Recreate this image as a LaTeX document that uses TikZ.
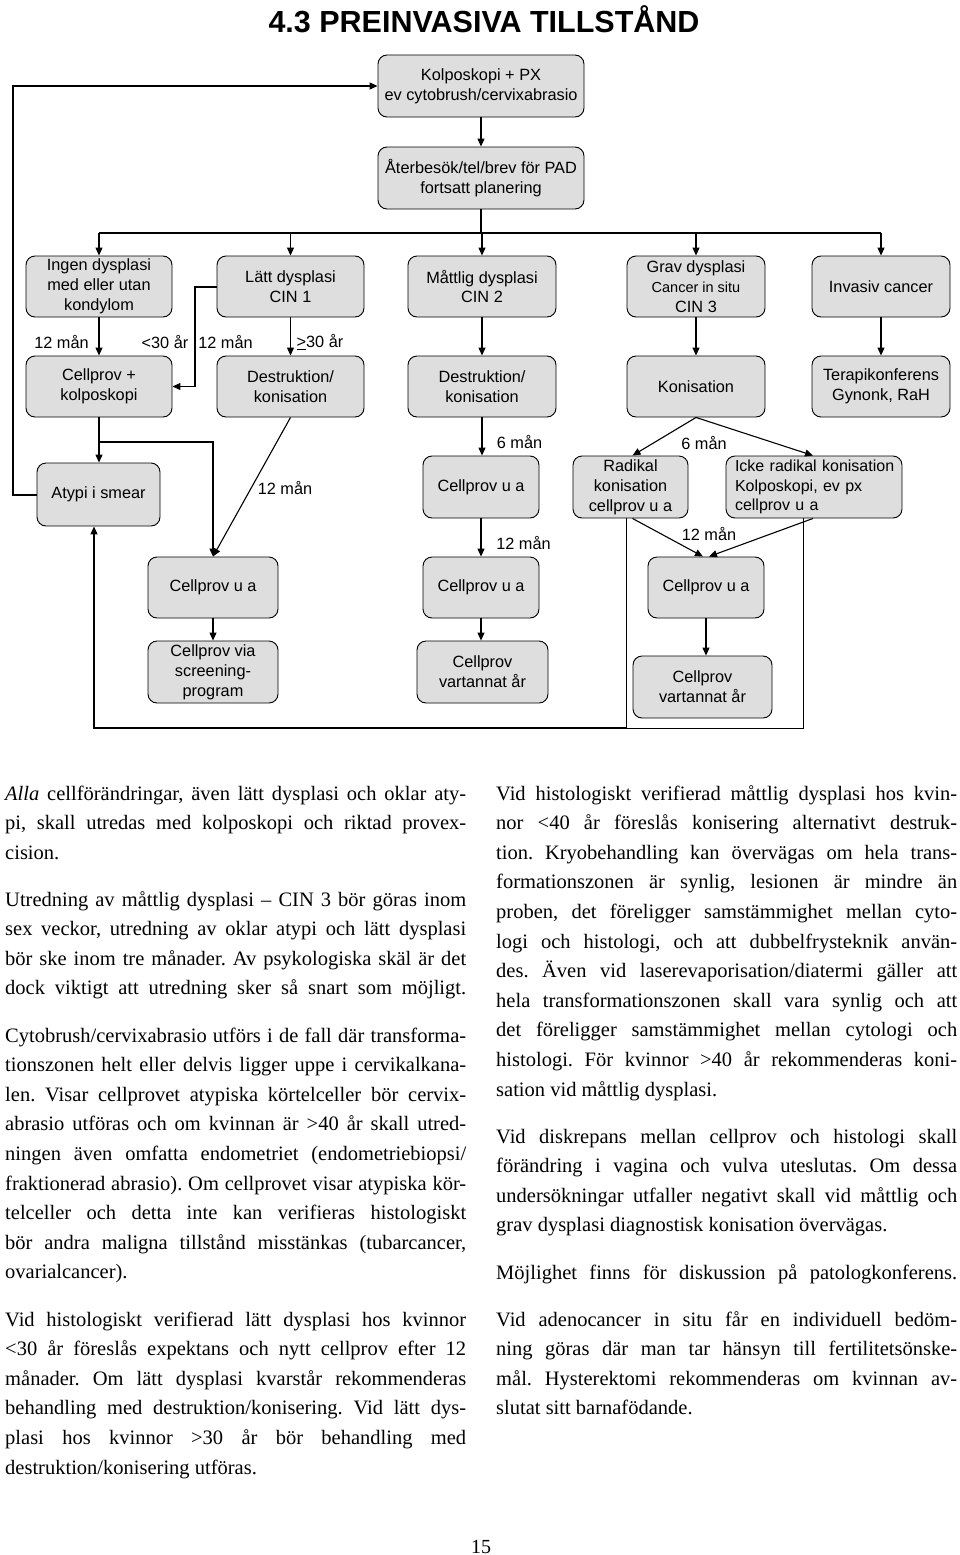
\documentclass[tikz,border=0pt]{standalone}
\usepackage{fontspec}
\setmainfont{Liberation Serif}
\setsansfont{Liberation Sans}
\usetikzlibrary{arrows.meta}
\definecolor{boxgray}{HTML}{DEDEDE}
\frenchspacing
\newcommand\bfnt{\sffamily\fontsize{16.3}{19.8}\selectfont}
\newcounter{tl}
\newcommand\jl[4]{\stepcounter{tl}\node[txtline] (tl\arabic{tl}) at (#1,{#2+29.6*#3}) {\makebox[461pt][s]{#4}};}
\newcommand\el[4]{\stepcounter{tl}\node[txtline] (tl\arabic{tl}) at (#1,{#2+29.6*#3}) {#4};}
\begin{document}
\begin{tikzpicture}[x=1pt,y=-1pt,
  box/.style={draw=black, line width=0.9pt, fill=boxgray, rounded corners=9pt, inner sep=0pt, align=center, font=\bfnt},
  lab/.style={font=\bfnt, inner sep=0pt},
  con/.style={line width=1.1pt},
  arr/.style={line width=1.1pt, -{Triangle[length=8pt,width=7pt]}},
  thinline/.style={line width=0.7pt},
  txtline/.style={anchor=base west, inner sep=0pt, font=\frenchspacing\fontsize{20.5}{24}\selectfont}]
\useasboundingbox (0,0) rectangle (960,1555);

% title
\node[font=\sffamily\bfseries\fontsize{30.5}{32}\selectfont, inner sep=0pt] (title) at (484,19) {4.3 PREINVASIVA TILLSTÅND};

% boxes
\node[box, minimum width=206pt, minimum height=62pt] (kolp) at (481,86) {Kolposkopi + PX\\ev cytobrush/cervixabrasio};
\node[box, minimum width=206pt, minimum height=62pt] (ater) at (481,178) {Återbesök/tel/brev för PAD\\fortsatt planering};

\node[box, minimum width=146pt, minimum height=61pt] (ingen) at (99,286.5) {Ingen dysplasi\\med eller utan\\kondylom};
\node[box, minimum width=147pt, minimum height=61pt] (latt) at (290.5,286.5) {Lätt dysplasi\\CIN 1};
\node[box, minimum width=148pt, minimum height=61pt] (mattl) at (482,286.5) {Måttlig dysplasi\\CIN 2};
\node[box, minimum width=138pt, minimum height=61pt] (grav) at (696,286.5) {Grav dysplasi\\{\fontsize{14.5}{19.5}\selectfont Cancer in situ}\\CIN 3};
\node[box, minimum width=138pt, minimum height=61pt] (inv) at (881,286.5) {Invasiv cancer};

\node[box, minimum width=146pt, minimum height=61pt] (cpk) at (99,386.5) {Cellprov +\\kolposkopi};
\node[box, minimum width=147pt, minimum height=61pt] (destr1) at (290.5,386.5) {Destruktion/\\konisation};
\node[box, minimum width=148pt, minimum height=61pt] (destr2) at (482,386.5) {Destruktion/\\konisation};
\node[box, minimum width=138pt, minimum height=61pt] (kon) at (696,386.5) {Konisation};
\node[box, minimum width=138pt, minimum height=61pt] (terapi) at (881,386.5) {Terapikonferens\\Gynonk, RaH};

\node[box, minimum width=123pt, minimum height=63pt] (atypi) at (98.5,494.5) {Atypi i smear};
\node[box, minimum width=116pt, minimum height=62pt] (cua2) at (481,487) {Cellprov u a};
\node[box, minimum width=115pt, minimum height=62pt] (radikal) at (630.5,487) {Radikal\\konisation\\cellprov u a};
\node[box, minimum width=176pt, minimum height=62pt, text width=158pt, align=left, font=\sffamily\fontsize{16}{19.8}\selectfont] (icke) at (814,487) {\mbox{Icke radikal konisation}\\Kolposkopi, ev px\\cellprov u a};

\node[box, minimum width=130pt, minimum height=61pt] (cua1) at (213,587.5) {Cellprov u a};
\node[box, minimum width=116pt, minimum height=61pt] (cua3) at (481,587.5) {Cellprov u a};
\node[box, minimum width=116pt, minimum height=61pt] (cua4) at (706,587.5) {Cellprov u a};

\node[box, minimum width=130pt, minimum height=62pt] (scr) at (213,672) {Cellprov via\\screening-\\program};
\node[box, minimum width=131pt, minimum height=62pt] (vart1) at (482.5,672) {Cellprov\\vartannat år};
\node[box, minimum width=139pt, minimum height=62pt] (vart2) at (702.5,687) {Cellprov\\vartannat år};

% connectors
\draw[arr] (kolp.south) -- (kolp.south |- ater.north);
\coordinate (hub) at (481,233);
\draw[con] (ater.south) -- (hub);
\draw[con] (hub -| ingen.north) -- (hub -| inv.north);
\foreach \n in {ingen,latt,mattl,grav,inv}
  \draw[arr] (hub -| \n.north) -- (\n.north);

\draw[arr] (ingen.south) -- (cpk.north);
\coordinate (lk) at (195,287);
\draw[arr] (latt.west |- lk) -- (lk) -- (lk |- cpk.east) -- (cpk.east);
\draw[arr] (latt.south) -- (destr1.north);
\draw[arr] (mattl.south) -- (destr2.north);
\draw[arr] (grav.south) -- (kon.north);
\draw[arr] (inv.south) -- (terapi.north);

\draw[arr] (cpk.south) -- (cpk.south |- atypi.north);
\coordinate (br) at (99,442);
\draw[arr] (br) -- (br -| cua1.north) -- (cua1.north);
\draw[arr] (destr1.south) -- (cua1.north);

\coordinate (ll) at (13,495);
\draw[arr] (atypi.west |- ll) -- (ll) -- (ll |- kolp.west) -- (kolp.west);

\draw[arr] (destr2.south) -- (destr2.south |- cua2.north);
\draw[arr] (cua2.south) -- (cua3.north);
\draw[arr] (cua3.south) -- (cua3.south |- vart1.north);
\draw[arr] (cua1.south) -- (scr.north);

\draw[arr] (kon.south) -- ([xshift=2pt]radikal.north);
\draw[arr] (kon.south) -- ([xshift=-1pt]icke.north);
\draw[arr] ([xshift=2pt]radikal.south) -- ([xshift=-3pt]cua4.north);
\draw[arr] ([xshift=-1pt]icke.south) -- ([xshift=3pt]cua4.north);
\draw[arr] (cua4.south) -- (cua4.south |- vart2.north);

\coordinate (lp) at (626,728);
\coordinate (lr) at (803,728);
\coordinate (bl) at (94,728);
\draw[thinline] (radikal.south -| lp) -- (lp);
\draw[thinline] (icke.south -| lr) -- (lr) -- (lp);
\draw[arr] (lp) -- (bl) -- (bl |- atypi.south);

% labels
\node[lab] (l1) at (61.5,342) {12 mån};
\node[lab] (l2) at (165,342) {<30 år};
\node[lab] (l3) at (225.5,342) {12 mån};
\node[lab] (l4) at (320,342) {\underline{>}30 år};
\node[lab] (l5) at (285,488) {12 mån};
\node[lab] (l6) at (519.5,442) {6 mån};
\node[lab] (l7) at (523.5,543) {12 mån};
\node[lab] (l8) at (704,443) {6 mån};
\node[lab] (l9) at (709,534) {12 mån};

% text column 1
\jl{5}{800}{0}{\textit{Alla} cellförändringar, även lätt dysplasi och oklar aty-}
\jl{5}{800}{1}{pi, skall utredas med kolposkopi och riktad provex-}
\el{5}{800}{2}{cision.}

\jl{5}{906}{0}{Utredning av måttlig dysplasi -- CIN 3 bör göras inom}
\jl{5}{906}{1}{sex veckor, utredning av oklar atypi och lätt dysplasi}
\jl{5}{906}{2}{bör ske inom tre månader. Av psykologiska skäl är det}
\jl{5}{906}{3}{dock viktigt att utredning sker så snart som möjligt.}

\jl{5}{1042}{0}{Cytobrush/cervixabrasio utförs i de fall där transforma-}
\jl{5}{1042}{1}{tionszonen helt eller delvis ligger uppe i cervikalkana-}
\jl{5}{1042}{2}{len. Visar cellprovet atypiska körtelceller bör cervix-}
\jl{5}{1042}{3}{abrasio utföras och om kvinnan är >40 år skall utred-}
\jl{5}{1042}{4}{ningen även omfatta endometriet (endometriebiopsi/}
\jl{5}{1042}{5}{fraktionerad abrasio). Om cellprovet visar atypiska kör-}
\jl{5}{1042}{6}{telceller och detta inte kan verifieras histologiskt}
\jl{5}{1042}{7}{bör andra maligna tillstånd misstänkas (tubarcancer,}
\el{5}{1042}{8}{ovarialcancer).}

\jl{5}{1326}{0}{Vid histologiskt verifierad lätt dysplasi hos kvinnor}
\jl{5}{1326}{1}{<30 år föreslås expektans och nytt cellprov efter 12}
\jl{5}{1326}{2}{månader. Om lätt dysplasi kvarstår rekommenderas}
\jl{5}{1326}{3}{behandling med destruktion/konisering. Vid lätt dys-}
\jl{5}{1326}{4}{plasi hos kvinnor >30 år bör behandling med}
\el{5}{1326}{5}{destruktion/konisering utföras.}

% text column 2
\jl{496}{800}{0}{Vid histologiskt verifierad måttlig dysplasi hos kvin-}
\jl{496}{800}{1}{nor <40 år föreslås konisering alternativt destruk-}
\jl{496}{800}{2}{tion. Kryobehandling kan övervägas om hela trans-}
\jl{496}{800}{3}{formationszonen är synlig, lesionen är mindre än}
\jl{496}{800}{4}{proben, det föreligger samstämmighet mellan cyto-}
\jl{496}{800}{5}{logi och histologi, och att dubbelfrysteknik använ-}
\jl{496}{800}{6}{des. Även vid laserevaporisation/diatermi gäller att}
\jl{496}{800}{7}{hela transformationszonen skall vara synlig och att}
\jl{496}{800}{8}{det föreligger samstämmighet mellan cytologi och}
\jl{496}{800}{9}{histologi. För kvinnor >40 år rekommenderas koni-}
\el{496}{800}{10}{sation vid måttlig dysplasi.}

\jl{496}{1143}{0}{Vid diskrepans mellan cellprov och histologi skall}
\jl{496}{1143}{1}{förändring i vagina och vulva uteslutas. Om dessa}
\jl{496}{1143}{2}{undersökningar utfaller negativt skall vid måttlig och}
\el{496}{1143}{3}{grav dysplasi diagnostisk konisation övervägas.}

\jl{496}{1279}{0}{Möjlighet finns för diskussion på patologkonferens.}

\jl{496}{1326}{0}{Vid adenocancer in situ får en individuell bedöm-}
\jl{496}{1326}{1}{ning göras där man tar hänsyn till fertilitetsönske-}
\jl{496}{1326}{2}{mål. Hysterektomi rekommenderas om kvinnan av-}
\el{496}{1326}{3}{slutat sitt barnafödande.}

\node[anchor=base, inner sep=0pt, font=\fontsize{20}{24}\selectfont] (pg) at (481,1553) {15};
\end{tikzpicture}
\end{document}
